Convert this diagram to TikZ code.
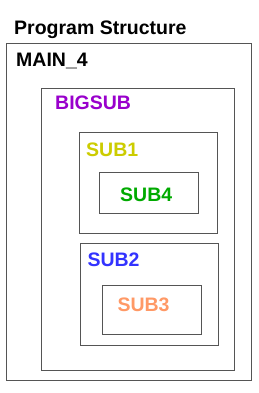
\documentclass[tikz,border=0pt]{standalone}
\usepackage{fontspec}
\setmainfont{Liberation Sans}
\definecolor{cbig}{HTML}{9900CC}
\definecolor{csubone}{HTML}{CCCC00}
\definecolor{csubfour}{HTML}{00AA00}
\definecolor{csubtwo}{HTML}{3333FF}
\definecolor{csubthree}{HTML}{FF9966}
\definecolor{cline}{HTML}{555555}
\begin{document}
\begin{tikzpicture}[x=1pt,y=-1pt,
  box/.style={draw=cline,line width=1pt},
  lbl/.style={anchor=base west,inner sep=0pt,font=\fontsize{19.5}{23}\selectfont\bfseries}]
\useasboundingbox (0,0) rectangle (259,393);
\fill[white] (0,0) rectangle (259,393);
% boxes
\draw[box] (6,44) rectangle (251,380);
\draw[box] (41,89) rectangle (234,370);
\draw[box] (79.5,132) rectangle (217.5,233);
\draw[box] (99.5,172) rectangle (198.5,213);
\draw[box] (80.5,243) rectangle (218.5,345);
\draw[box] (102.5,285) rectangle (201.5,334);
% labels
\node[lbl] (title) at (14,34.5) {Program Structure};
\node[lbl] (main) at (16,66.7) {MAIN\_4};
\node[lbl,text=cbig] (bigsub) at (55,110) {BIGSUB};
\node[lbl,text=csubone] (sub1) at (86,156) {SUB1};
\node[lbl,text=csubfour] (sub4) at (120,201.7) {SUB4};
\node[lbl,text=csubtwo] (sub2) at (87.3,266.7) {SUB2};
\node[lbl,text=csubthree] (sub3) at (117.3,311.7) {SUB3};
\end{tikzpicture}
\end{document}
